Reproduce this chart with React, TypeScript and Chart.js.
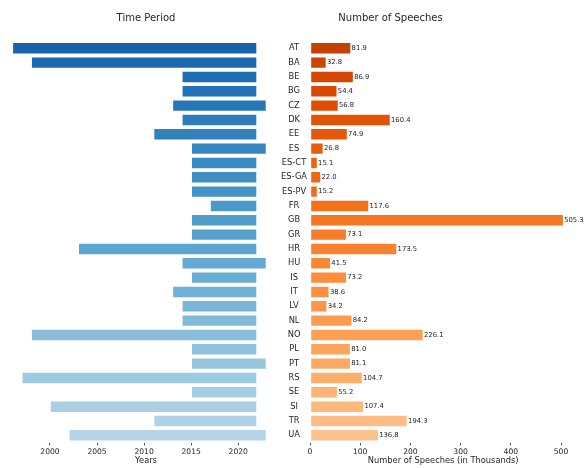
import React, { useEffect, useRef } from 'react';
import { Chart, registerables } from 'chart.js';

Chart.register(...registerables);

const CATEGORIES = ['AT', 'BA', 'BE', 'BG', 'CZ', 'DK', 'EE', 'ES', 'ES-CT', 'ES-GA', 'ES-PV', 'FR', 'GB', 'GR', 'HR', 'HU', 'IS', 'IT', 'LV', 'NL', 'NO', 'PL', 'PT', 'RS', 'SE', 'SI', 'TR', 'UA'];
const START_YEARS = [1996, 1998, 2014, 2014, 2013, 2014, 2011, 2015, 2015, 2015, 2015, 2017, 2015, 2015, 2003, 2014, 2015, 2013, 2014, 2014, 1998, 2015, 2015, 1997, 2015, 2000, 2011, 2002];
const END_YEARS = [2022, 2022, 2022, 2022, 2023, 2022, 2022, 2023, 2022, 2022, 2022, 2022, 2022, 2022, 2022, 2023, 2022, 2022, 2022, 2022, 2022, 2022, 2023, 2022, 2022, 2022, 2022, 2023];
const SPEECHES = [81.9, 32.8, 86.9, 54.4, 56.8, 160.4, 74.9, 26.8, 15.1, 22.0, 15.2, 117.6, 505.3, 73.1, 173.5, 41.5, 73.2, 38.6, 34.2, 84.2, 226.1, 81.0, 81.1, 104.7, 55.2, 107.4, 194.3, 136.8];
const YEAR_TICKS = [2000, 2005, 2010, 2015, 2020];
const SPEECH_TICKS = [0, 100, 200, 300, 400, 500];

const LEFT_TITLE = 'Time Period';
const RIGHT_TITLE = 'Number of Speeches';
const LEFT_XLABEL = 'Years';
const RIGHT_XLABEL = 'Number of Speeches (in Thousands)';

const FONT = "'DejaVu Sans', 'Liberation Sans', sans-serif";
const TEXT = '#262626';
const W = 584;
const H = 468;

const BLUES = ['#f7fbff', '#deebf7', '#c6dbef', '#9ecae1', '#6baed6', '#4292c6', '#2171b5', '#08519c', '#08306b'];
const ORANGES = ['#fff5eb', '#fee6ce', '#fdd0a2', '#fdae6b', '#fd8d3c', '#f16913', '#d94801', '#a63603', '#7f2704'];

function hexToRgb(h: string) {
  return [parseInt(h.slice(1, 3), 16), parseInt(h.slice(3, 5), 16), parseInt(h.slice(5, 7), 16)];
}
function sample(cmap: string[], t: number) {
  const pos = t * (cmap.length - 1);
  const i = Math.min(Math.floor(pos), cmap.length - 2);
  const f = pos - i;
  const a = hexToRgb(cmap[i]);
  const b = hexToRgb(cmap[i + 1]);
  const c = a.map((v, k) => Math.round(v + (b[k] - v) * f));
  return `rgb(${c[0]},${c[1]},${c[2]})`;
}
function palette(cmap: string[], n: number) {
  return Array.from({ length: n }, (_, i) => sample(cmap, 0.8 - (0.5 * i) / (n - 1)));
}

function fixedTitle(text: string, x: number, y: number) {
  return {
    id: 'fixedTitle',
    afterDraw(chart: any) {
      const ctx = chart.ctx;
      ctx.save();
      ctx.font = `10px ${FONT}`;
      ctx.fillStyle = TEXT;
      ctx.textAlign = 'center';
      ctx.textBaseline = 'middle';
      ctx.fillText(text, x, y);
      ctx.restore();
    },
  };
}

const valueLabels = {
  id: 'valueLabels',
  afterDatasetsDraw(chart: any) {
    const ctx = chart.ctx;
    const meta = chart.getDatasetMeta(0);
    ctx.save();
    ctx.font = `6.8px ${FONT}`;
    ctx.fillStyle = TEXT;
    ctx.textAlign = 'left';
    ctx.textBaseline = 'middle';
    meta.data.forEach((bar: any, i: number) => {
      ctx.fillText(SPEECHES[i].toFixed(1), bar.x + 0.5, bar.y);
    });
    ctx.restore();
  },
};

const TOP = 41.1;
const X_AXIS_H = 25.5;
const EDGE = 'rgba(255,255,255,0.45)';

export default function App() {
  const leftRef = useRef<HTMLCanvasElement>(null);
  const rightRef = useRef<HTMLCanvasElement>(null);

  useEffect(() => {
    const blues = palette(BLUES, CATEGORIES.length);
    const oranges = palette(ORANGES, CATEGORIES.length);

    const left = new Chart(leftRef.current as HTMLCanvasElement, {
      type: 'bar',
      data: {
        labels: CATEGORIES,
        datasets: [
          {
            data: CATEGORIES.map((_, i) => [START_YEARS[i], END_YEARS[i]]) as any,
            backgroundColor: blues,
            borderColor: EDGE,
            borderWidth: 0.8,
            borderSkipped: false,
            barPercentage: 0.84,
            categoryPercentage: 1,
          },
        ],
      },
      options: {
        indexAxis: 'y',
        responsive: true,
        maintainAspectRatio: false,
        animation: false,
        events: [],
        layout: { padding: { left: 12.3, right: W - 279.7, top: TOP, bottom: 0 } },
        plugins: { legend: { display: false }, tooltip: { enabled: false } },
        scales: {
          y: { type: 'category', display: false, offset: true, grid: { display: false } },
          x: {
            type: 'linear',
            min: 1996,
            max: 2024.4,
            afterBuildTicks: (s: any) => {
              s.ticks = YEAR_TICKS.map((v) => ({ value: v }));
            },
            afterFit: (s: any) => {
              s.height = X_AXIS_H;
            },
            grid: { drawOnChartArea: false, drawTicks: true, tickLength: 3, tickColor: TEXT, lineWidth: 0.8 },
            border: { display: false },
            ticks: {
              font: { family: FONT, size: 7.6 },
              color: TEXT,
              padding: 2,
              maxRotation: 0,
              autoSkip: false,
              callback: (v: any) => String(v),
            },
            title: { display: true, text: LEFT_XLABEL, font: { family: FONT, size: 8.3 }, color: TEXT, padding: { top: 0, bottom: 2 } },
          },
        },
      },
      plugins: [fixedTitle(LEFT_TITLE, 146, 18)],
    });

    const right = new Chart(rightRef.current as HTMLCanvasElement, {
      type: 'bar',
      data: {
        labels: CATEGORIES,
        datasets: [
          {
            data: SPEECHES,
            backgroundColor: oranges,
            borderColor: EDGE,
            borderWidth: 0.8,
            borderSkipped: false,
            barPercentage: 0.84,
            categoryPercentage: 1,
          },
        ],
      },
      options: {
        indexAxis: 'y',
        responsive: true,
        maintainAspectRatio: false,
        animation: false,
        events: [],
        layout: { padding: { left: 0, right: W - 576.4, top: TOP, bottom: 0 } },
        plugins: { legend: { display: false }, tooltip: { enabled: false } },
        scales: {
          y: {
            type: 'category',
            offset: true,
            afterFit: (s: any) => {
              s.width = 310;
            },
            grid: { display: false, drawTicks: false },
            border: { display: false },
            ticks: { font: { family: FONT, size: 8.3 }, color: TEXT, padding: 3, crossAlign: 'center', autoSkip: false },
          },
          x: {
            type: 'linear',
            min: 0,
            max: 530.6,
            afterBuildTicks: (s: any) => {
              s.ticks = SPEECH_TICKS.map((v) => ({ value: v }));
            },
            afterFit: (s: any) => {
              s.height = X_AXIS_H;
            },
            grid: { drawOnChartArea: false, drawTicks: true, tickLength: 3, tickColor: TEXT, lineWidth: 0.8 },
            border: { display: false },
            ticks: {
              font: { family: FONT, size: 7.6 },
              color: TEXT,
              padding: 2,
              maxRotation: 0,
              autoSkip: false,
              callback: (v: any) => String(v),
            },
            title: { display: true, text: RIGHT_XLABEL, font: { family: FONT, size: 8.3 }, color: TEXT, padding: { top: 0, bottom: 2 } },
          },
        },
      },
      plugins: [fixedTitle(RIGHT_TITLE, 390.5, 18), valueLabels],
    });

    return () => {
      left.destroy();
      right.destroy();
    };
  }, []);

  const box: React.CSSProperties = { position: 'absolute', left: 0, top: 0, width: W, height: H };
  return (
    <div style={{ position: 'absolute', left: 0, top: 0, width: W, height: H, background: '#fff' }}>
      <div style={box}>
        <canvas ref={leftRef} />
      </div>
      <div style={box}>
        <canvas ref={rightRef} />
      </div>
    </div>
  );
}
